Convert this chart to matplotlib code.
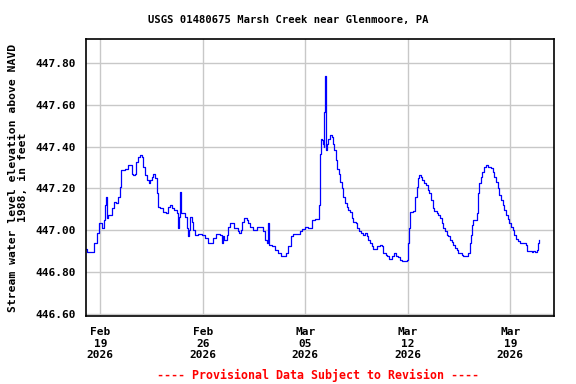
import matplotlib
matplotlib.use("Agg")
import matplotlib.pyplot as plt
import numpy as np
from datetime import datetime, timedelta

# Days since 2026-02-19 00:00 and water level (ft)
days = [-1.048, -0.934, -0.478, -0.41, -0.251, -0.091, 0.091, 0.137, 0.273, 0.319,
        0.364, 0.433, 0.547, 0.774, 0.957, 1.048, 1.230, 1.321, 1.412, 1.686,
        1.913, 2.027, 2.141, 2.255, 2.369, 2.437, 2.597, 2.711, 2.825, 2.938,
        3.052, 3.166, 3.326, 3.417, 3.508, 3.622, 3.736, 3.850, 3.964, 4.077,
        4.305, 4.465, 4.601, 4.761, 4.875, 5.057, 5.216, 5.285, 5.376, 5.421,
        5.513, 5.672, 5.786, 5.900, 5.968, 6.059, 6.150, 6.287, 6.355, 6.469,
        6.697, 6.925, 7.153, 7.380, 7.563, 7.722, 7.904, 8.178, 8.292, 8.360,
        8.474, 8.633, 8.747, 8.861, 9.021, 9.157, 9.385, 9.499, 9.613, 9.704,
        9.841, 10.0, 10.114, 10.228, 10.456, 10.683, 10.911, 11.139, 11.253, 11.367,
        11.435, 11.526, 11.708, 11.936, 12.118, 12.346, 12.574, 12.688, 12.847, 13.007,
        13.189, 13.531, 13.645, 13.759, 13.986, 14.214, 14.442, 14.670, 14.897, 14.966,
        15.034, 15.080, 15.171, 15.216, 15.262, 15.308, 15.353, 15.399, 15.467, 15.581,
        15.695, 15.809, 15.923, 15.991, 16.073, 16.187, 16.278, 16.369, 16.483, 16.597,
        16.711, 16.825, 16.939, 17.052, 17.166, 17.280, 17.440, 17.554, 17.690, 17.804,
        17.918, 18.077, 18.191, 18.305, 18.419, 18.533, 18.647, 18.875, 19.103, 19.216,
        19.330, 19.513, 19.604, 19.740, 19.900, 20.059, 20.196, 20.355, 20.469, 20.583,
        20.811, 20.925, 20.993, 21.061, 21.153, 21.267, 21.380, 21.494, 21.608, 21.722,
        21.790, 21.882, 21.995, 22.109, 22.223, 22.360, 22.474, 22.588, 22.702, 22.815,
        22.975, 23.089, 23.203, 23.317, 23.431, 23.545, 23.658, 23.772, 23.886, 24.0,
        24.114, 24.228, 24.342, 24.456, 24.683, 24.797, 25.025, 25.139, 25.253, 25.321,
        25.39, 25.481, 25.595, 25.709, 25.777, 25.868, 25.982, 26.096, 26.232, 26.323,
        26.506, 26.665, 26.802, 26.916, 27.030, 27.144, 27.258, 27.371, 27.485, 27.599,
        27.713, 27.827, 27.941, 28.055, 28.169, 28.282, 28.396, 28.510, 28.670, 28.897,
        29.080, 29.171, 29.308, 29.467, 29.581, 29.718, 29.809, 29.877, 29.968]

levels = [446.910, 446.894, 446.894, 446.938, 446.986, 447.033, 447.033, 447.010, 447.049, 447.121,
          447.160, 447.057, 447.073, 447.105, 447.137, 447.129, 447.160, 447.208, 447.287, 447.295,
          447.311, 447.311, 447.271, 447.263, 447.271, 447.327, 447.351, 447.359, 447.351, 447.303,
          447.263, 447.240, 447.224, 447.240, 447.256, 447.271, 447.248, 447.176, 447.113, 447.105,
          447.089, 447.081, 447.113, 447.121, 447.105, 447.097, 447.081, 447.010, 447.065, 447.184,
          447.081, 447.081, 447.065, 447.010, 446.970, 447.002, 447.065, 447.041, 447.002, 446.978,
          446.981, 446.978, 446.962, 446.938, 446.938, 446.962, 446.981, 446.978, 446.938, 446.970,
          446.954, 446.978, 447.017, 447.033, 447.033, 447.010, 446.994, 446.986, 447.002, 447.041,
          447.057, 447.049, 447.033, 447.017, 447.002, 447.017, 447.017, 446.994, 446.954, 446.938,
          447.033, 446.930, 446.922, 446.906, 446.890, 446.875, 446.875, 446.890, 446.922, 446.970,
          446.981, 446.981, 446.994, 447.005, 447.014, 447.010, 447.049, 447.052, 447.052, 447.121,
          447.367, 447.438, 447.430, 447.414, 447.398, 447.565, 447.740, 447.383, 447.414, 447.438,
          447.454, 447.446, 447.414, 447.383, 447.335, 447.295, 447.271, 447.232, 447.200, 447.160,
          447.128, 447.113, 447.097, 447.089, 447.057, 447.041, 447.033, 447.010, 446.994, 446.986,
          446.978, 446.986, 446.970, 446.954, 446.938, 446.922, 446.910, 446.925, 446.930, 446.922,
          446.890, 446.883, 446.875, 446.863, 446.875, 446.890, 446.875, 446.871, 446.859, 446.851,
          446.854, 446.859, 446.938, 447.010, 447.089, 447.089, 447.094, 447.160, 447.208, 447.248,
          447.263, 447.256, 447.240, 447.224, 447.216, 447.192, 447.176, 447.144, 447.105, 447.094,
          447.081, 447.073, 447.057, 447.033, 447.010, 446.994, 446.978, 446.970, 446.954, 446.941,
          446.930, 446.914, 446.903, 446.890, 446.883, 446.875, 446.875, 446.890, 446.938, 446.978,
          447.025, 447.049, 447.049, 447.081, 447.176, 447.224, 447.256, 447.279, 447.303, 447.311,
          447.303, 447.300, 447.279, 447.256, 447.232, 447.200, 447.168, 447.144, 447.121, 447.097,
          447.073, 447.054, 447.033, 447.017, 447.002, 446.978, 446.959, 446.946, 446.938, 446.938,
          446.930, 446.902, 446.898, 446.895, 446.898, 446.894, 446.906, 446.938, 446.954]

tick_dates = ["2026-02-19", "2026-02-26", "2026-03-05", "2026-03-12", "2026-03-19"]
tick_labels = ["Feb\n19\n2026", "Feb\n26\n2026", "Mar\n05\n2026", "Mar\n12\n2026", "Mar\n19\n2026"]
y_ticks = [446.60, 446.80, 447.00, 447.20, 447.40, 447.60, 447.80]

base = datetime(2026, 2, 19)
times = [base + timedelta(days=d) for d in days]

plt.rcParams['font.family'] = ['DejaVu Sans Mono']
plt.rcParams['font.weight'] = 'bold'

fig = plt.figure(figsize=(5.76, 3.84), dpi=100)
ax = fig.add_axes([85.5/576, 1-315.7/384, (554.3-85.5)/576, (315.7-39.3)/384])

ax.step(times, levels, where='post', color='#0000ff', linewidth=0.9)

ax.set_xlim(base + timedelta(days=-1.011), base + timedelta(days=31.005))
ax.set_ylim(446.590, 447.915)

ax.set_yticks(y_ticks)
ax.set_yticklabels([f"{v:.2f}" for v in y_ticks])
ax.set_xticks([datetime.strptime(d, "%Y-%m-%d") for d in tick_dates])
ax.set_xticklabels(tick_labels, linespacing=1.22)

ax.grid(True, color='#c8c8c8', linewidth=1.0)
ax.set_axisbelow(True)
for s in ax.spines.values():
    s.set_linewidth(1.2)
    s.set_color('black')
ax.tick_params(axis='y', length=0, labelsize=8.0, pad=7)
ax.tick_params(axis='x', length=0, labelsize=8.0, pad=8)

fig.text(288/576, 1-20/384, "USGS 01480675 Marsh Creek near Glenmoore, PA", fontsize=7.6,
         fontweight='bold', ha='center', va='center')
ax.set_ylabel("Stream water level elevation above NAVD\n1988, in feet", fontsize=8.2,
              fontweight='bold', linespacing=1.0, labelpad=5)

fig.text(318/576, 1-375/384, "---- Provisional Data Subject to Revision ----",
         color='red', fontsize=8.4, fontweight='bold', ha='center', va='center')

fig.savefig("out.png", dpi=100)
